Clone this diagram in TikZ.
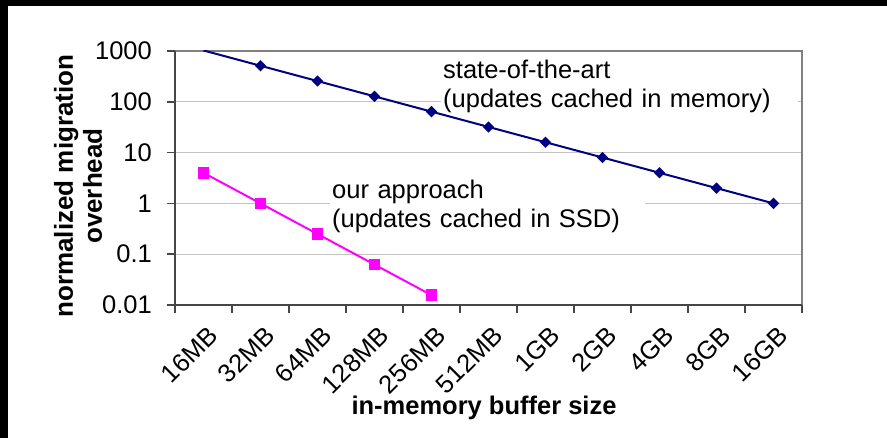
\documentclass[tikz,border=0pt]{standalone}
\usepackage{fontspec}
\setmainfont{Liberation Sans}
\usetikzlibrary{shapes.geometric}

\definecolor{navyline}{RGB}{0,0,128}
\definecolor{magline}{RGB}{255,0,255}
\definecolor{gridgray}{RGB}{196,196,196}
\definecolor{axisgray}{RGB}{70,70,70}
\definecolor{framegray}{RGB}{128,128,128}

\begin{document}
\begin{tikzpicture}[x=1pt,y=-1pt,
  ticklab/.style={font=\fontsize{25.5}{28}\selectfont, inner sep=0pt},
  axtitle/.style={font=\bfseries\fontsize{26}{29}\selectfont, inner sep=0pt, align=center},
  note/.style={font=\fontsize{25.5}{28.5}\selectfont, fill=white, inner xsep=2pt,
               inner ysep=3pt, align=left, anchor=north west},
  gridln/.style={draw=gridgray, line width=1pt},
  axisln/.style={draw=axisgray, line width=1.6pt},
  frameln/.style={draw=framegray, line width=1.2pt},
  sotamark/.style={diamond, fill=navyline, inner sep=0pt, minimum width=11.5pt,
                   minimum height=11.5pt},
  oursmark/.style={rectangle, fill=magline, inner sep=0pt, minimum size=11.5pt},
  sotaln/.style={draw=navyline, line width=2pt},
  oursln/.style={draw=magline, line width=2pt},
]
\useasboundingbox (0,0) rectangle (887,438);

% dark edge strips of the canvas
\fill[black] (0,0) rectangle (887,6.5);
\fill[black] (0,0) rectangle (8.3,438);

% plot area corners
\coordinate (plotTL) at (175,51);
\coordinate (plotTR) at (802,51);
\coordinate (plotBL) at (175,305);
\coordinate (plotBR) at (802,305);

% horizontal gridlines (one per decade)
\foreach \yy [count=\k] in {101.8,152.6,203.4,254.2}
  \draw[gridln] (175,\yy) coordinate (gl\k) -- (802,\yy) coordinate (gr\k);

% plot area border
\draw[frameln] (plotTL) -- (plotTR) -- (plotBR);

% series annotations
\node[note, text width=353pt] (sotanote) at (441,57)
  {state-of-the-art\\(updates cached in memory)};
\node[note, text width=311pt] (oursnote) at (330,177)
  {our approach\\(updates cached in SSD)};

% data points (log scale: 50.8 per decade, 1000 at y=51)
\coordinate (s0) at (203.5,50.48);
\foreach \i/\yy in {1/65.77,2/81.06,3/96.35,4/111.64,5/126.94,6/142.23,
                    7/157.52,8/172.82,9/188.11,10/203.4}
  \coordinate (s\i) at ({175+57*(\i+0.5)},\yy);
\foreach \i/\yy in {0/172.82,1/203.4,2/233.99,3/264.57,4/295.16}
  \coordinate (o\i) at ({175+57*(\i+0.5)},\yy);

\begin{scope}
  \clip (plotTL) rectangle (plotBR);
  \draw[sotaln] (s0) \foreach \i in {1,...,10} { -- (s\i) };
\end{scope}
\draw[oursln] (o0) \foreach \i in {1,...,4} { -- (o\i) };

\foreach \i in {1,...,10} \node[sotamark] (sm\i) at (s\i) {};
\foreach \i in {0,...,4} \node[oursmark] (om\i) at (o\i) {};

% axes and tick marks
\draw[axisln] (plotTL) -- (175,313) coordinate (axbot);
\draw[axisln] (plotBL) -- (plotBR);
\foreach \yy [count=\k] in {51,101.8,152.6,203.4,254.2,305}
  \draw[axisln] (167,\yy) coordinate (yt\k) -- (175,\yy);
\foreach \k in {1,...,11}
  \draw[axisln] ({175+57*\k},305) coordinate (xt\k) -- ({175+57*\k},313);

% tick labels
\foreach \v/\yy [count=\k] in {1000/51,100/101.8,10/152.6,1/203.4,0.1/254.2,0.01/305}
  \node[ticklab, anchor=east] (yl\k) at (152,\yy) {\v};
\foreach \lab [count=\k from 0] in {16MB,32MB,64MB,128MB,256MB,512MB,1GB,2GB,4GB,8GB,16GB}
  \node[ticklab, rotate=45, anchor=north east] (xl\k) at ({175+57*(\k+0.5)+3},325) {\lab};

% axis titles
\node[axtitle, rotate=90] (ytitle) at (78,186) {normalized migration\\overhead};
\node[axtitle, anchor=base, font=\bfseries\fontsize{25.5}{29}\selectfont] (xtitle) at (484,415)
  {in-memory buffer size};
\end{tikzpicture}
\end{document}
